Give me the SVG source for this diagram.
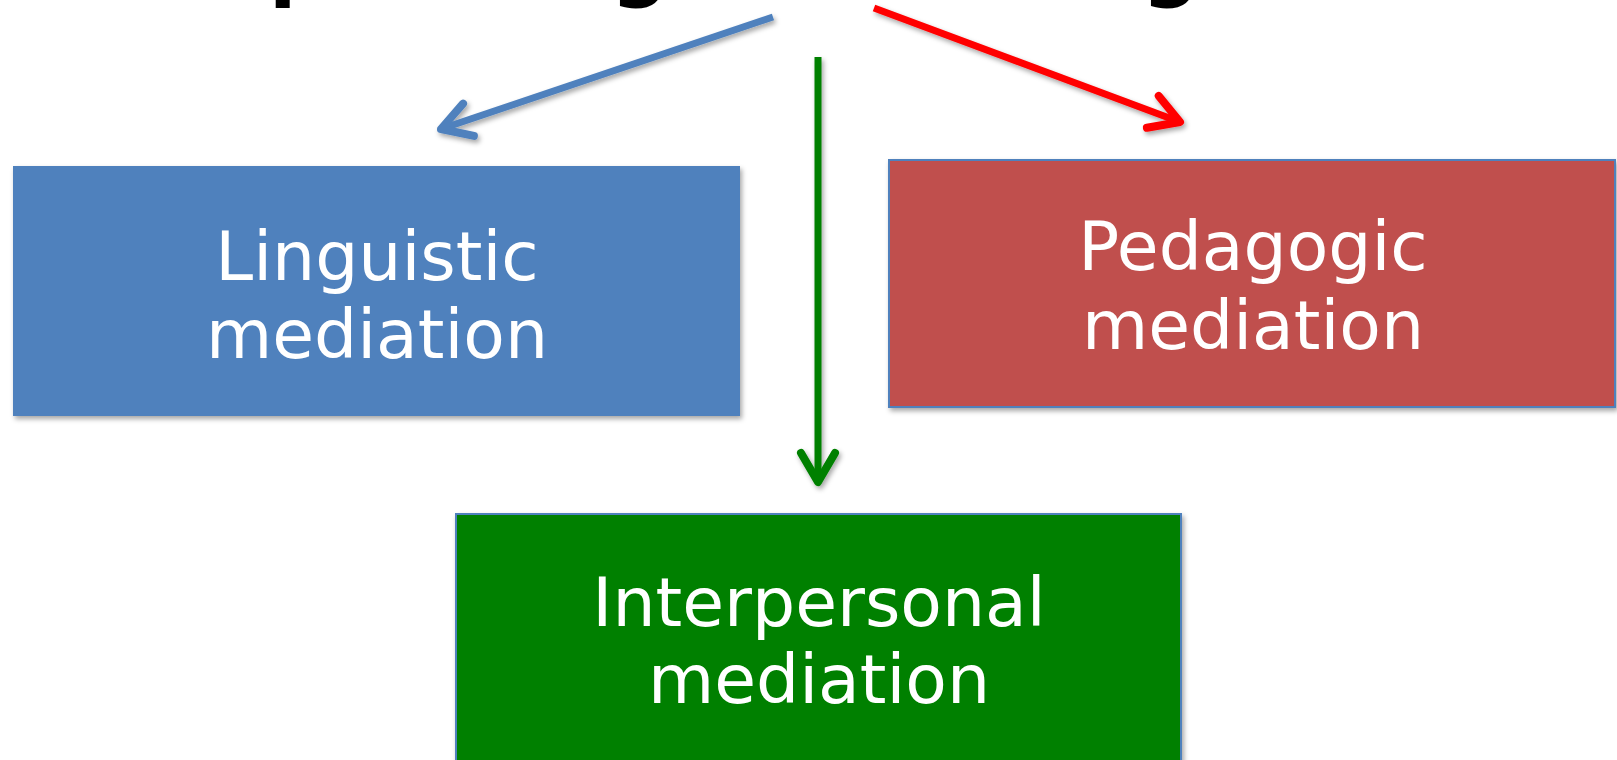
<svg xmlns="http://www.w3.org/2000/svg" width="1617" height="760" viewBox="0 0 1617 760">
  <style>
    .label { font-family: "DejaVu Sans", Verdana, sans-serif; font-size: 68px; fill: #ffffff; text-anchor: middle; }
    .title { font-family: "DejaVu Sans", Verdana, sans-serif; font-weight: bold; font-size: 80px; fill: #000000; }
    .box { stroke: #4F81BD; stroke-width: 2; }
    .shaft { fill: none; stroke-width: 7; stroke-linecap: butt; }
    .head { fill: none; stroke-width: 8; stroke-linecap: round; stroke-linejoin: round; }
  </style>
  <defs>
    <filter id="shadow" x="-10%" y="-10%" width="130%" height="130%">
      <feDropShadow dx="2" dy="3" stdDeviation="2.5" flood-color="#000000" flood-opacity="0.35"/>
    </filter>
    <marker id="headBlue" markerUnits="userSpaceOnUse" orient="auto" refX="0" refY="0" markerWidth="40" markerHeight="40" viewBox="-36 -20 40 40" overflow="visible">
      <path class="head" d="M -29 -17 L 0 0 L -29 17" stroke="#4F81BD"/>
    </marker>
    <marker id="headRed" markerUnits="userSpaceOnUse" orient="auto" refX="0" refY="0" markerWidth="40" markerHeight="40" viewBox="-36 -20 40 40" overflow="visible">
      <path class="head" d="M -29 -17 L 0 0 L -29 17" stroke="#FF0000"/>
    </marker>
    <marker id="headGreen" markerUnits="userSpaceOnUse" orient="auto" refX="0" refY="0" markerWidth="40" markerHeight="40" viewBox="-36 -20 40 40" overflow="visible">
      <path class="head" d="M -29 -17 L 0 0 L -29 17" stroke="#008000"/>
    </marker>
  </defs>

  <rect width="1617" height="760" fill="#ffffff"/>

  <!-- heading line, mostly above the top edge -->
  <g id="title">
    <text class="title" x="269" y="-9">p</text>
    <text class="title" x="611" y="-9">g</text>
    <text class="title" x="1142" y="-9">g</text>
  </g>

  <g id="connectors" filter="url(#shadow)">
    <path class="shaft" d="M 773 17 L 441 129" stroke="#4F81BD" marker-end="url(#headBlue)"/>
    <path class="shaft" d="M 874 8 L 1180 122" stroke="#FF0000" marker-end="url(#headRed)"/>
    <path class="shaft" d="M 818 57 L 818 482" stroke="#008000" marker-end="url(#headGreen)"/>
  </g>

  <g id="linguistic">
    <rect x="13" y="166" width="727" height="250" fill="#4F81BD" filter="url(#shadow)"/>
    <text class="label" x="377" y="280">Linguistic</text>
    <text class="label" x="377" y="358">mediation</text>
  </g>

  <g id="pedagogic">
    <rect class="box" x="889" y="160" width="726" height="247" fill="#C0504D" filter="url(#shadow)"/>
    <text class="label" x="1253" y="270">Pedagogic</text>
    <text class="label" x="1253" y="349">mediation</text>
  </g>

  <g id="interpersonal">
    <rect class="box" x="456" y="514" width="725" height="260" fill="#008000" filter="url(#shadow)"/>
    <text class="label" x="819" y="626">Interpersonal</text>
    <text class="label" x="819" y="703">mediation</text>
  </g>
</svg>
